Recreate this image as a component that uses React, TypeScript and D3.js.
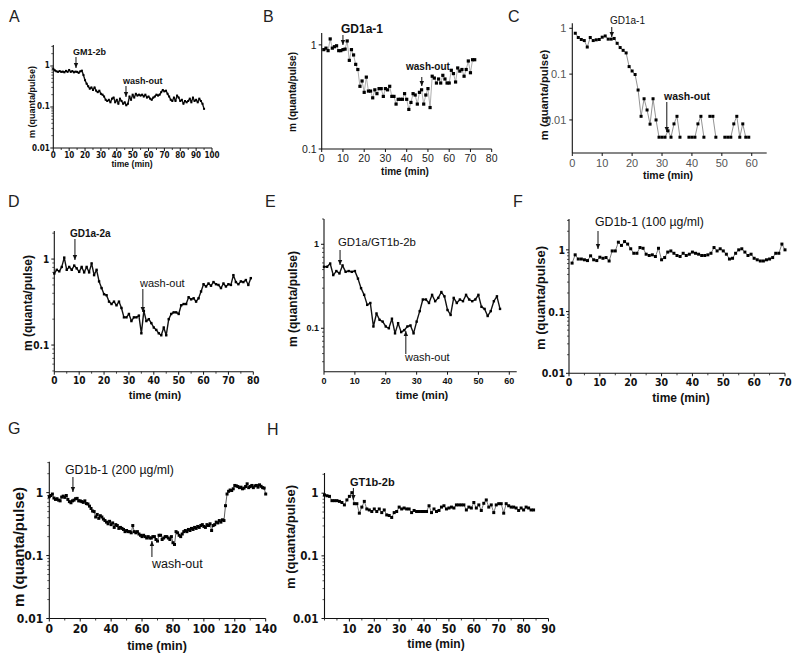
import React from 'react';
import * as d3 from 'd3';

type Pt = [number, number | null];

// ---------- data (time in min, m in quanta/pulse) ----------
const seriesA: Pt[] = [
  [0,0.85],[1,0.78],[2,0.74],[3,0.72],[4,0.75],[5,0.72],[6,0.73],[7,0.7],[8,0.76],[9,0.72],
  [10,0.8],[11,0.72],[12,0.75],[13,0.7],[14,0.73],[15,0.72],[16,0.68],[17,0.74],[18,0.77],[19,0.6],
  [20,0.45],[21,0.37],[22,0.32],[23,0.28],[24,0.3],[25,0.26],[26,0.3],[27,0.25],[28,0.23],[29,0.25],
  [30,0.21],[31,0.2],[32,0.18],[33,0.15],[34,0.14],[35,0.15],[36,0.13],[37,0.16],[38,0.17],[39,0.13],
  [40,0.15],[41,0.12],[42,0.16],[43,0.14],[44,0.12],[45,0.13],[46,0.11],[47,0.12],[48,0.18],[49,0.15],
  [50,0.2],[51,0.17],[52,0.21],[53,0.19],[54,0.2],[55,0.19],[56,0.2],[57,0.18],[58,0.2],[59,0.17],
  [60,0.18],[61,0.16],[62,0.15],[63,0.17],[64,0.18],[65,0.2],[66,0.19],[67,0.2],[68,0.23],[69,0.26],
  [70,0.24],[71,0.25],[72,0.21],[73,0.18],[74,0.15],[75,0.14],[76,0.17],[77,0.14],[78,0.19],[79,0.17],
  [80,0.14],[81,0.15],[82,0.12],[83,0.14],[84,0.13],[85,0.14],[86,0.16],[87,0.13],[88,0.17],[89,0.14],
  [90,0.15],[91,0.13],[92,0.16],[93,0.14],[94,0.12],[95,0.09],
];

const seriesB: Pt[] = [
  [1,0.9],[2,0.93],[3,0.88],[4,1.14],[5,0.93],[6,0.96],[7,0.98],[8,0.88],[9,0.88],[10,0.9],
  [11,0.91],[12,1.09],[13,0.71],[14,0.9],[15,0.8],[16,0.65],[17,0.58],[18,0.4],[19,0.45],[20,0.35],
  [21,0.49],[22,0.36],[23,0.36],[24,0.31],[25,0.37],[26,0.34],[27,0.38],[28,0.38],[29,0.32],[30,0.38],
  [31,0.37],[32,0.4],[33,0.32],[34,0.32],[35,0.27],[36,0.3],[37,0.3],[38,0.3],[39,0.34],[40,0.3],
  [41,0.24],[42,0.28],[43,0.34],[44,0.33],[45,0.27],[46,0.35],[47,0.37],[48,0.27],[49,0.33],[50,0.38],
  [51,0.25],[52,0.5],[53,0.48],[54,0.43],[55,0.47],[56,0.43],[57,0.51],[58,0.47],[59,0.43],[60,0.43],
  [61,0.57],[62,0.53],[63,0.44],[64,0.6],[65,0.56],[66,0.58],[67,0.5],[68,0.58],[69,0.7],[70,0.54],
  [71,0.72],[72,0.72],
];

const seriesC: Pt[] = [
  [1,0.78],[2,0.63],[3,0.57],[4,0.54],[5,0.39],[6,0.63],[7,0.54],[8,0.56],[9,0.57],[10,0.64],
  [11,0.68],[12,0.58],[13,0.58],[14,0.6],[15,0.47],[16,0.38],[17,0.33],[18,0.29],[19,0.146],[20,0.117],
  [21,0.098],[22,0.045],[23,0.012],[24,0.029],[25,0.0165],[26,0.0081],[27,0.029],[28,0.01],[29,0.0042],[30,0.0042],
  [31,0.0042],[32,0.0058],[33,0.0042],[34,0.0082],[35,0.012],[36,0.0042],[37,null],[38,null],[39,0.0042],[40,0.0042],
  [41,0.0042],[42,0.0082],[43,0.012],[44,0.0042],[45,null],[46,0.012],[47,0.012],[48,0.0042],[49,null],[50,null],
  [51,0.0042],[52,0.0042],[53,0.0042],[54,0.0082],[55,0.012],[56,0.0042],[57,0.0082],[58,0.0042],[59,0.0042],
];

const seriesD: Pt[] = [
  [0,0.68],[1,0.75],[2,0.72],[3,0.81],[4,1.04],[5,0.75],[6,0.81],[7,0.75],[8,0.84],[9,0.78],
  [10,0.71],[11,0.81],[12,0.7],[13,0.81],[14,0.7],[15,0.89],[16,0.65],[17,0.75],[18,0.55],[19,0.46],
  [20,0.39],[21,0.38],[22,0.32],[23,0.3],[24,0.32],[25,0.29],[26,0.32],[27,0.27],[28,0.21],[29,0.21],
  [30,0.23],[31,0.19],[32,0.21],[33,0.21],[34,0.22],[35,0.137],[36,0.25],[37,0.19],[38,0.2],[39,0.18],
  [40,0.16],[41,0.15],[42,0.137],[43,0.13],[44,0.16],[45,0.13],[46,0.2],[47,0.23],[48,0.24],[49,0.24],
  [50,0.23],[51,0.29],[52,0.3],[53,0.3],[54,0.36],[55,0.34],[56,0.35],[57,0.32],[58,0.35],[59,0.42],
  [60,0.51],[61,0.48],[62,0.52],[63,0.49],[64,0.54],[65,0.51],[66,0.5],[67,0.46],[68,0.52],[69,0.48],
  [70,0.51],[71,0.5],[72,0.65],[73,0.54],[74,0.51],[75,0.55],[76,0.54],[77,0.57],[78,0.5],[79,0.6],
];

const seriesE: Pt[] = [
  [0,0.54],[1,0.54],[2,0.59],[3,0.43],[4,0.48],[5,0.45],[6,0.56],[7,0.47],[8,0.48],[9,0.47],
  [10,0.48],[11,0.39],[12,0.3],[13,0.25],[14,0.19],[15,0.2],[16,0.105],[17,0.15],[18,0.126],[19,0.12],
  [20,0.105],[21,0.1],[22,0.13],[23,0.087],[24,0.115],[25,0.09],[26,0.095],[27,0.105],[28,0.108],[29,0.087],
  [30,0.12],[31,0.16],[32,0.22],[33,0.22],[34,0.2],[35,0.25],[36,0.21],[37,0.23],[38,0.27],[39,0.24],
  [40,0.165],[41,0.144],[42,0.23],[43,0.2],[44,0.22],[45,0.21],[46,0.25],[47,0.22],[48,0.21],[49,0.22],
  [50,0.25],[51,0.18],[52,0.17],[53,0.14],[54,0.16],[55,0.21],[56,0.24],[57,0.17],
];

const seriesF: Pt[] = [
  [1,0.61],[2,0.83],[3,0.71],[4,0.71],[5,0.69],[6,0.67],[7,0.8],[8,0.69],[9,0.67],[10,0.76],
  [11,0.73],[12,0.75],[13,0.66],[14,0.96],[15,0.96],[16,1.33],[17,1.18],[18,1.36],[19,1.24],[20,1.04],
  [21,0.88],[22,0.88],[23,1.09],[24,1.06],[25,0.85],[26,0.81],[27,0.83],[28,0.78],[29,1.06],[30,0.69],
  [31,0.75],[32,0.92],[33,0.96],[34,0.88],[35,0.81],[36,0.78],[37,0.88],[38,0.81],[39,0.85],[40,0.92],
  [41,0.88],[42,0.85],[43,0.81],[44,0.81],[45,0.83],[46,0.88],[47,1.09],[48,0.96],[49,1.04],[50,0.96],
  [51,0.85],[52,0.71],[53,0.73],[54,0.88],[55,1.0],[56,1.04],[57,0.92],[58,0.81],[59,0.85],[60,0.73],
  [61,0.69],[62,0.66],[63,0.66],[64,0.69],[65,0.71],[66,0.75],[67,0.88],[68,0.88],[69,1.24],[70,1.0],
];

const seriesG: Pt[] = [
  [0,0.86],[1,0.9],[2,0.95],[3,0.82],[4,0.78],[5,0.8],[6,0.76],[7,0.74],[8,0.85],[9,0.88],
  [10,0.84],[11,0.9],[12,0.78],[13,0.72],[14,0.69],[15,0.74],[16,0.76],[17,0.8],[18,0.81],[19,0.74],
  [20,0.74],[21,0.72],[22,0.7],[23,0.74],[24,0.67],[25,0.66],[26,0.61],[27,0.56],[28,0.51],[29,0.5],
  [30,0.41],[31,0.45],[32,0.39],[33,0.43],[34,0.41],[35,0.38],[36,0.36],[37,0.34],[38,0.32],[39,0.35],
  [40,0.31],[41,0.33],[42,0.28],[43,0.31],[44,0.3],[45,0.27],[46,0.28],[47,0.27],[48,0.26],[49,0.24],
  [50,0.25],[51,0.24],[52,0.24],[53,0.23],[54,0.3],[55,0.24],[56,0.23],[57,0.24],[58,0.22],[59,0.21],
  [60,0.2],[61,0.21],[62,0.2],[63,0.19],[64,0.2],[65,0.19],[66,0.19],[67,0.2],[68,0.2],[69,0.18],
  [70,0.17],[71,0.21],[72,0.21],[73,0.18],[74,0.19],[75,0.2],[76,0.2],[77,0.19],[78,0.18],[79,0.2],
  [80,0.16],[81,0.15],[82,0.24],[83,0.23],[84,0.21],[85,0.2],[86,0.22],[87,0.24],[88,0.25],[89,0.24],
  [90,0.26],[91,0.25],[92,0.27],[93,0.26],[94,0.28],[95,0.27],[96,0.29],[97,0.28],[98,0.3],[99,0.31],
  [100,0.29],[101,0.28],[102,0.31],[103,0.3],[104,0.32],[105,0.25],[106,0.3],[107,0.31],[108,0.34],[109,0.33],
  [110,0.36],[111,0.34],[112,0.37],[113,0.36],[114,0.62],[115,0.95],[116,1.05],[117,1.1],[118,1.08],[119,1.15],
  [120,1.3],[121,1.28],[122,1.25],[123,1.2],[124,1.22],[125,1.15],[126,1.18],[127,1.25],[128,1.38],[129,1.2],
  [130,1.25],[131,1.3],[132,1.2],[133,1.28],[134,1.3],[135,1.22],[136,1.33],[137,1.26],[138,1.2],[139,1.18],
  [140,0.95],
];

const seriesH: Pt[] = [
  [0,0.94],[1,0.91],[2,0.89],[3,0.76],[4,0.76],[5,0.76],[6,0.74],[7,0.71],[8,0.65],[9,0.78],
  [10,0.89],[11,1.02],[12,0.68],[13,0.68],[14,0.48],[15,0.6],[16,0.74],[17,0.56],[18,0.54],[19,0.51],
  [20,0.56],[21,0.51],[22,0.56],[23,0.49],[24,0.54],[25,0.45],[26,0.44],[27,0.41],[28,0.49],[29,0.51],
  [30,0.6],[31,0.56],[32,0.58],[33,0.56],[34,0.56],[35,0.49],[36,0.53],[37,0.51],[38,0.51],[39,0.51],
  [40,0.51],[41,0.51],[42,0.63],[43,0.49],[44,0.56],[45,0.51],[46,0.53],[47,0.6],[48,0.63],[49,0.56],
  [50,0.58],[51,0.6],[52,0.58],[53,0.65],[54,0.65],[55,0.65],[56,0.65],[57,0.54],[58,0.6],[59,0.58],
  [60,0.71],[61,0.58],[62,0.65],[63,0.53],[64,0.69],[65,0.78],[66,0.6],[67,0.65],[68,0.49],[69,0.65],
  [70,0.68],[71,0.68],[72,0.48],[73,0.68],[74,0.63],[75,0.6],[76,0.6],[77,0.58],[78,0.53],[79,0.58],
  [80,0.54],[81,0.6],[82,0.58],[83,0.54],[84,0.54],
];

// tick values
const xTicksA = [0, 10, 20, 30, 40, 50, 60, 70, 80, 90, 100];
const xTicksB = [0, 10, 20, 30, 40, 50, 60, 70, 80];
const xTicksC = [0, 10, 20, 30, 40, 50, 60];
const xTicksD = [0, 10, 20, 30, 40, 50, 60, 70, 80];
const xTicksE = [0, 10, 20, 30, 40, 50, 60];
const xTicksF = [0, 10, 20, 30, 40, 50, 60, 70];
const xTicksG = [0, 20, 40, 60, 80, 100, 120, 140];
const xTicksH = [10, 20, 30, 40, 50, 60, 70, 80, 90];
const yTicks3 = [0.01, 0.1, 1];
const yTicks2 = [0.1, 1];

const SANS = "'Liberation Sans', Arial, Helvetica, sans-serif";
const COND = "'Liberation Sans Narrow', 'DejaVu Sans Condensed', 'Arial Narrow', sans-serif";

interface Ann { text: string; t: number; tx: number; ty: number; y1: number; y2: number; up?: boolean; size: number; bold?: boolean; }
interface Spec {
  letter: string; lx: number; ly: number;
  left: number; right: number; top: number; bottom: number;
  xDomain: [number, number]; yDomain: [number, number];
  xTicks: number[]; xMinorStep: number; yTicks: number[]; yMinor: boolean;
  tickFont: string; tickSize: number; tickWeight: string; tickColor: string;
  xTickDy: number; yTickDx: number;
  xLabel: [number, number, number]; yLabel: [number, number, number];
  data: Pt[]; lineColor: string; lineWidth: number; marker: number;
  ann: Ann[];
}

const specs: Spec[] = [
  {
    letter: 'A', lx: 9, ly: 22,
    left: 53.3, right: 212, top: 45, bottom: 148, xDomain: [0, 100], yDomain: [0.01, 3.25],
    xTicks: xTicksA, xMinorStep: 5, yTicks: yTicks3, yMinor: true,
    tickFont: COND, tickSize: 8, tickWeight: 'bold', tickColor: '#111', xTickDy: 7.5, yTickDx: 3.5,
    xLabel: [132, 164, 8.6], yLabel: [32, 102, 9],
    data: seriesA, lineColor: '#111', lineWidth: 1.4, marker: 2,
    ann: [
      { text: 'GM1-2b', t: 14.3, tx: 73, ty: 55, y1: 57, y2: 68, size: 9, bold: true },
      { text: 'wash-out', t: 45.8, tx: 123, ty: 84, y1: 86, y2: 97, size: 9, bold: true },
    ],
  },
  {
    letter: 'B', lx: 263, ly: 22,
    left: 321.7, right: 491.7, top: 33, bottom: 149, xDomain: [0, 80], yDomain: [0.1, 1.3],
    xTicks: xTicksB, xMinorStep: 0, yTicks: yTicks2, yMinor: false,
    tickFont: SANS, tickSize: 10.5, tickWeight: 'normal', tickColor: '#222', xTickDy: 9, yTickDx: 5,
    xLabel: [405, 171, 10], yLabel: [292, 92, 10],
    data: seriesB, lineColor: '#999', lineWidth: 0.8, marker: 3.2,
    ann: [
      { text: 'GD1a-1', t: 10, tx: 341, ty: 33, y1: 35, y2: 45, size: 12, bold: true },
      { text: 'wash-out', t: 47.1, tx: 406, ty: 70, y1: 77, y2: 86, size: 10, bold: true },
    ],
  },
  {
    letter: 'C', lx: 508, ly: 22,
    left: 572.3, right: 766.7, top: 23.3, bottom: 153, xDomain: [0, 65], yDomain: [0.0019, 1.285],
    xTicks: xTicksC, xMinorStep: 0, yTicks: yTicks3, yMinor: false,
    tickFont: SANS, tickSize: 11, tickWeight: 'normal', tickColor: '#555', xTickDy: 10, yTickDx: 6,
    xLabel: [668, 175, 10.5], yLabel: [544, 95, 11.3],
    data: seriesC, lineColor: '#777', lineWidth: 0.8, marker: 3,
    ann: [
      { text: 'GD1a-1', t: 13.2, tx: 610, ty: 24, y1: 27, y2: 37, size: 10 },
      { text: 'wash-out', t: 31.6, tx: 664, ty: 100, y1: 102, y2: 132, size: 10.5, bold: true },
    ],
  },
  {
    letter: 'D', lx: 8, ly: 207,
    left: 54.3, right: 253.3, top: 231, bottom: 371.7, xDomain: [0, 80], yDomain: [0.049, 2.12],
    xTicks: xTicksD, xMinorStep: 5, yTicks: yTicks2, yMinor: true,
    tickFont: COND, tickSize: 10, tickWeight: 'bold', tickColor: '#111', xTickDy: 8.5, yTickDx: 5,
    xLabel: [155, 395, 11], yLabel: [28, 303, 12],
    data: seriesD, lineColor: '#111', lineWidth: 1.4, marker: 2.4,
    ann: [
      { text: 'GD1a-2a', t: 8.3, tx: 70, ty: 237, y1: 239, y2: 260, size: 10, bold: true },
      { text: 'wash-out', t: 35.6, tx: 140, ty: 287, y1: 289, y2: 312, size: 11 },
    ],
  },
  {
    letter: 'E', lx: 265, ly: 207,
    left: 324, right: 516.7, top: 219, bottom: 371.7, xDomain: [0, 62.4], yDomain: [0.0304, 2.0],
    xTicks: xTicksE, xMinorStep: 0, yTicks: yTicks2, yMinor: true,
    tickFont: SANS, tickSize: 9, tickWeight: 'bold', tickColor: '#111', xTickDy: 9.5, yTickDx: 5,
    xLabel: [422, 395, 11], yLabel: [293, 299, 12],
    data: seriesE, lineColor: '#111', lineWidth: 1.4, marker: 2.4,
    ann: [
      { text: 'GD1a/GT1b-2b', t: 5.2, tx: 338, ty: 246, y1: 250, y2: 265, size: 11.4 },
      { text: 'wash-out', t: 26.5, tx: 405, ty: 361, y1: 331, y2: 354, up: true, size: 11 },
    ],
  },
  {
    letter: 'F', lx: 513, ly: 207,
    left: 569, right: 785, top: 219, bottom: 373.3, xDomain: [0, 70], yDomain: [0.01, 3.16],
    xTicks: xTicksF, xMinorStep: 5, yTicks: yTicks3, yMinor: true,
    tickFont: COND, tickSize: 10.5, tickWeight: 'bold', tickColor: '#111', xTickDy: 8.5, yTickDx: 4,
    xLabel: [681, 398, 12], yLabel: [540, 298, 13],
    data: seriesF, lineColor: '#555', lineWidth: 0.8, marker: 3,
    ann: [
      { text: 'GD1b-1 (100 µg/ml)', t: 9.4, tx: 595, ty: 226, y1: 231, y2: 249, size: 12.3 },
    ],
  },
  {
    letter: 'G', lx: 8, ly: 434,
    left: 49.3, right: 265.7, top: 461.7, bottom: 618.5, xDomain: [0, 140], yDomain: [0.01, 3.1],
    xTicks: xTicksG, xMinorStep: 10, yTicks: yTicks3, yMinor: true,
    tickFont: COND, tickSize: 12, tickWeight: 'bold', tickColor: '#111', xTickDy: 10, yTickDx: 6,
    xLabel: [157, 646, 12.5], yLabel: [18, 547, 15],
    data: seriesG, lineColor: '#333', lineWidth: 0.8, marker: 3,
    ann: [
      { text: 'GD1b-1 (200 µg/ml)', t: 15.3, tx: 65, ty: 474, y1: 477, y2: 492, size: 12.3 },
      { text: 'wash-out', t: 66.4, tx: 152, ty: 568, y1: 541, y2: 557, up: true, size: 12.5 },
    ],
  },
  {
    letter: 'H', lx: 267, ly: 435,
    left: 324.5, right: 548.5, top: 473, bottom: 618.5, xDomain: [0, 90], yDomain: [0.01, 2.1],
    xTicks: xTicksH, xMinorStep: 5, yTicks: yTicks3, yMinor: true,
    tickFont: COND, tickSize: 11.5, tickWeight: 'bold', tickColor: '#111', xTickDy: 10, yTickDx: 6,
    xLabel: [436, 644, 12], yLabel: [290, 537, 13],
    data: seriesH, lineColor: '#555', lineWidth: 0.8, marker: 3,
    ann: [
      { text: 'GT1b-2b', t: 11.6, tx: 350, ty: 486, y1: 488, y2: 500, size: 11, bold: true },
    ],
  },
];

function Panel({ p }: { p: Spec }) {
  const x = d3.scaleLinear().domain(p.xDomain).range([p.left, p.right]);
  const y = d3.scaleLog().domain(p.yDomain).range([p.bottom, p.top]);
  const line = d3.line<Pt>()
    .defined((d) => d[1] != null)
    .x((d) => x(d[0]))
    .y((d) => y(d[1] as number));

  const xMinor: number[] = [];
  if (p.xMinorStep > 0) {
    for (let v = p.xDomain[0]; v <= p.xDomain[1] + 1e-9; v += p.xMinorStep) {
      if (!p.xTicks.includes(v)) xMinor.push(v);
    }
  }
  const yMinor: number[] = [];
  if (p.yMinor) {
    const e0 = Math.floor(Math.log10(p.yDomain[0]));
    const e1 = Math.ceil(Math.log10(p.yDomain[1]));
    for (let e = e0; e <= e1; e++) {
      for (let k = 2; k <= 9; k++) {
        const v = k * Math.pow(10, e);
        if (v >= p.yDomain[0] && v <= p.yDomain[1]) yMinor.push(v);
      }
    }
  }
  const pts = p.data.filter((d) => d[1] != null);
  const s = p.marker;

  return (
    <g>
      <text x={p.lx} y={p.ly} fontFamily={SANS} fontSize={16} fill="#222">{p.letter}</text>
      <line x1={p.left} x2={p.right} y1={p.bottom} y2={p.bottom} stroke="#111" strokeWidth={1.1} />
      <line x1={p.left} x2={p.left} y1={p.bottom} y2={p.top} stroke="#111" strokeWidth={1.1} />
      {p.xTicks.map((v) => (
        <g key={'xt' + v}>
          <line x1={x(v)} x2={x(v)} y1={p.bottom} y2={p.bottom + 3} stroke="#111" strokeWidth={1} />
          <text x={x(v)} y={p.bottom + p.xTickDy} textAnchor="middle" dominantBaseline="central"
            fontFamily={p.tickFont} fontSize={p.tickSize} fontWeight={p.tickWeight} fill={p.tickColor}>{v}</text>
        </g>
      ))}
      {xMinor.map((v) => (
        <line key={'xm' + v} x1={x(v)} x2={x(v)} y1={p.bottom} y2={p.bottom + 2} stroke="#111" strokeWidth={0.8} />
      ))}
      {p.yTicks.map((v) => (
        <g key={'yt' + v}>
          <line x1={p.left - 3} x2={p.left} y1={y(v)} y2={y(v)} stroke="#111" strokeWidth={1} />
          <text x={p.left - p.yTickDx} y={y(v)} textAnchor="end" dominantBaseline="central"
            fontFamily={p.tickFont} fontSize={p.tickSize} fontWeight={p.tickWeight} fill={p.tickColor}>{String(v)}</text>
        </g>
      ))}
      {yMinor.map((v) => (
        <line key={'ym' + v} x1={p.left - 2} x2={p.left} y1={y(v)} y2={y(v)} stroke="#111" strokeWidth={0.7} />
      ))}
      <text x={p.xLabel[0]} y={p.xLabel[1]} textAnchor="middle" dominantBaseline="central"
        fontFamily={SANS} fontWeight="bold" fontSize={p.xLabel[2]} fill="#111">time (min)</text>
      <text transform={`translate(${p.yLabel[0]},${p.yLabel[1]}) rotate(-90)`} textAnchor="middle" dominantBaseline="central"
        fontFamily={SANS} fontWeight="bold" fontSize={p.yLabel[2]} fill="#111">m (quanta/pulse)</text>
      <path d={line(p.data) || ''} fill="none" stroke={p.lineColor} strokeWidth={p.lineWidth} strokeLinejoin="round" />
      {pts.map((d, i) => (
        <rect key={'m' + i} x={x(d[0]) - s / 2} y={y(d[1] as number) - s / 2} width={s} height={s} fill="#000" />
      ))}
      {p.ann.map((a, i) => {
        const ax = x(a.t);
        const head = a.up
          ? `M${ax - 2.2},${a.y1 + 5} L${ax},${a.y1} L${ax + 2.2},${a.y1 + 5} Z`
          : `M${ax - 2.2},${a.y2 - 5} L${ax},${a.y2} L${ax + 2.2},${a.y2 - 5} Z`;
        return (
          <g key={'a' + i}>
            <text x={a.tx} y={a.ty} fontFamily={SANS} fontSize={a.size} fontWeight={a.bold ? 'bold' : 'normal'} fill="#111">{a.text}</text>
            <line x1={ax} x2={ax} y1={a.y1} y2={a.y2} stroke="#111" strokeWidth={1} />
            <path d={head} fill="#111" />
          </g>
        );
      })}
    </g>
  );
}

export default function App() {
  return (
    <svg width={800} height={657} viewBox="0 0 800 657"
      style={{ position: 'absolute', left: 0, top: 0, background: '#fff' }}>
      <rect x={0} y={0} width={800} height={657} fill="#fff" />
      {specs.map((p) => <Panel key={p.letter} p={p} />)}
    </svg>
  );
}
